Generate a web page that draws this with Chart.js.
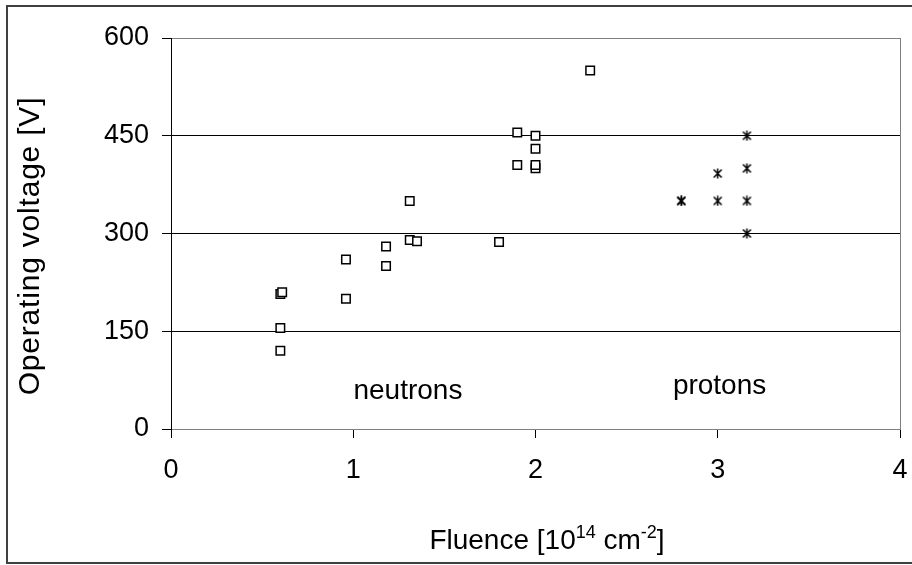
<!DOCTYPE html>
<html>
<head>
<meta charset="utf-8">
<script src="https://cdn.jsdelivr.net/npm/chart.js@4/dist/chart.umd.min.js"></script>
<style>
  html, body { margin: 0; padding: 0; background: #fff; }
  #wrap { position: relative; width: 912px; height: 565px; overflow: hidden; }
  #frame { position: absolute; left: 6px; top: 5px; width: 940px; height: 559px; box-sizing: border-box; border: 2px solid #404040; }
  canvas { position: absolute; left: 0; top: 0; }
</style>
</head>
<body>
<div id="wrap">
  <div id="frame"></div>
  <canvas id="chart" width="912" height="565"></canvas>
</div>
<script>
// ===== DONNEES =====
const fluenceNeutrons = [0.6, 0.6, 0.6, 0.61, 0.96, 0.96, 1.18, 1.18, 1.31, 1.31, 1.35, 1.8, 1.9, 1.9, 2.0, 2.0, 2.0, 2.0, 2.3]
const voltageNeutrons = [120, 155, 207, 210, 200, 260, 250, 280, 290, 350, 288, 287, 405, 455, 400, 405, 430, 450, 550]
const fluenceProtons = [2.8, 2.8, 3.0, 3.0, 3.16, 3.16, 3.16, 3.16]
const voltageProtons = [350, 350, 350, 392, 300, 350, 400, 450]
const xTicks = [0, 1, 2, 3, 4]
const yTicks = [0, 150, 300, 450, 600]
const groupLabels = ['neutrons', 'protons']
const yTitle = 'Operating voltage [V]'

const police = "'Liberation Sans', Arial, sans-serif"
const gris = '#808080'

// asterisk marker (X + vertical bar)
function asterisque() {
    const c = document.createElement('canvas')
    c.width = 11
    c.height = 11
    const g = c.getContext('2d')
    g.strokeStyle = '#000'
    g.lineWidth = 1.5
    g.beginPath()
    g.moveTo(1.5, 1.5); g.lineTo(9.5, 9.5)
    g.moveTo(9.5, 1.5); g.lineTo(1.5, 9.5)
    g.moveTo(5.5, 0.5); g.lineTo(5.5, 10.5)
    g.stroke()
    return c
}

// ===== TEXTES (titres + annotations) =====
const textes = {
    id: 'textes',
    afterDraw(chart) {
        const ctx = chart.ctx
        const { x, y } = chart.scales
        ctx.save()
        ctx.fillStyle = '#000'

        // annotations
        ctx.font = '28px ' + police
        ctx.textAlign = 'center'
        ctx.textBaseline = 'alphabetic'
        ctx.fillText(groupLabels[0], x.getPixelForValue(1.3), y.getPixelForValue(46))
        ctx.fillText(groupLabels[1], x.getPixelForValue(3.01), y.getPixelForValue(54))

        // y title
        ctx.save()
        ctx.translate(31, 246)
        ctx.rotate(-Math.PI / 2)
        ctx.font = '30px ' + police
        ctx.letterSpacing = '0.8px'
        ctx.textAlign = 'center'
        ctx.textBaseline = 'middle'
        ctx.fillText(yTitle, 0, 0)
        ctx.restore()

        // x title with superscripts
        const morceaux = [
            { t: 'Fluence [10', sup: false },
            { t: '14', sup: true },
            { t: ' cm', sup: false },
            { t: '-2', sup: true },
            { t: ']', sup: false }
        ]
        const fNorm = '28px ' + police
        const fSup = '18px ' + police
        let total = 0
        morceaux.forEach(m => {
            ctx.font = m.sup ? fSup : fNorm
            m.w = ctx.measureText(m.t).width
            total += m.w
        })
        let cx = 547 - total / 2
        ctx.textAlign = 'left'
        ctx.textBaseline = 'alphabetic'
        morceaux.forEach(m => {
            ctx.font = m.sup ? fSup : fNorm
            ctx.fillText(m.t, cx, m.sup ? 538 : 549)
            cx += m.w
        })
        ctx.restore()
    }
}

new Chart(document.getElementById('chart'), {
    type: 'scatter',
    data: {
        datasets: [{
            label: groupLabels[0],
            data: fluenceNeutrons.map((f, i) => ({ x: f, y: voltageNeutrons[i] })),
            pointStyle: 'rect',
            pointRadius: 6,
            pointBorderWidth: 1.5,
            pointBorderColor: '#000',
            pointBackgroundColor: '#fff'
        }, {
            label: groupLabels[1],
            data: fluenceProtons.map((f, i) => ({ x: f, y: voltageProtons[i] })),
            pointStyle: asterisque(),
            pointRadius: 6
        }]
    },
    options: {
        responsive: false,
        animation: false,
        devicePixelRatio: 1,
        layout: { padding: { top: 38, right: 0, left: 0, bottom: 0 } },
        plugins: { legend: { display: false }, tooltip: { enabled: false } },
        scales: {
            x: {
                type: 'linear',
                min: 0, max: 4,
                afterBuildTicks: s => { s.ticks = xTicks.map(v => ({ value: v })) },
                afterFit: s => { s.height = 136; s.paddingRight = 12 },
                border: { color: gris, width: 1 },
                grid: {
                    color: c => c.tick && c.tick.value === 4 ? gris : 'rgba(0,0,0,0)',
                    tickColor: '#000',
                    tickLength: 9,
                    lineWidth: 1
                },
                ticks: { color: '#000', font: { family: police, size: 27 }, padding: 16, maxRotation: 0 }
            },
            y: {
                type: 'linear',
                min: 0, max: 600,
                afterBuildTicks: s => { s.ticks = yTicks.map(v => ({ value: v })) },
                afterFit: s => { s.width = 171 },
                border: { color: '#000', width: 1 },
                grid: {
                    color: c => c.tick && (c.tick.value === 600 || c.tick.value === 0) ? gris : '#000',
                    tickColor: '#000',
                    tickLength: 9,
                    lineWidth: 1
                },
                ticks: { color: '#000', font: { family: police, size: 27 }, padding: 13 }
            }
        }
    },
    plugins: [textes]
})
</script>
</body>
</html>
